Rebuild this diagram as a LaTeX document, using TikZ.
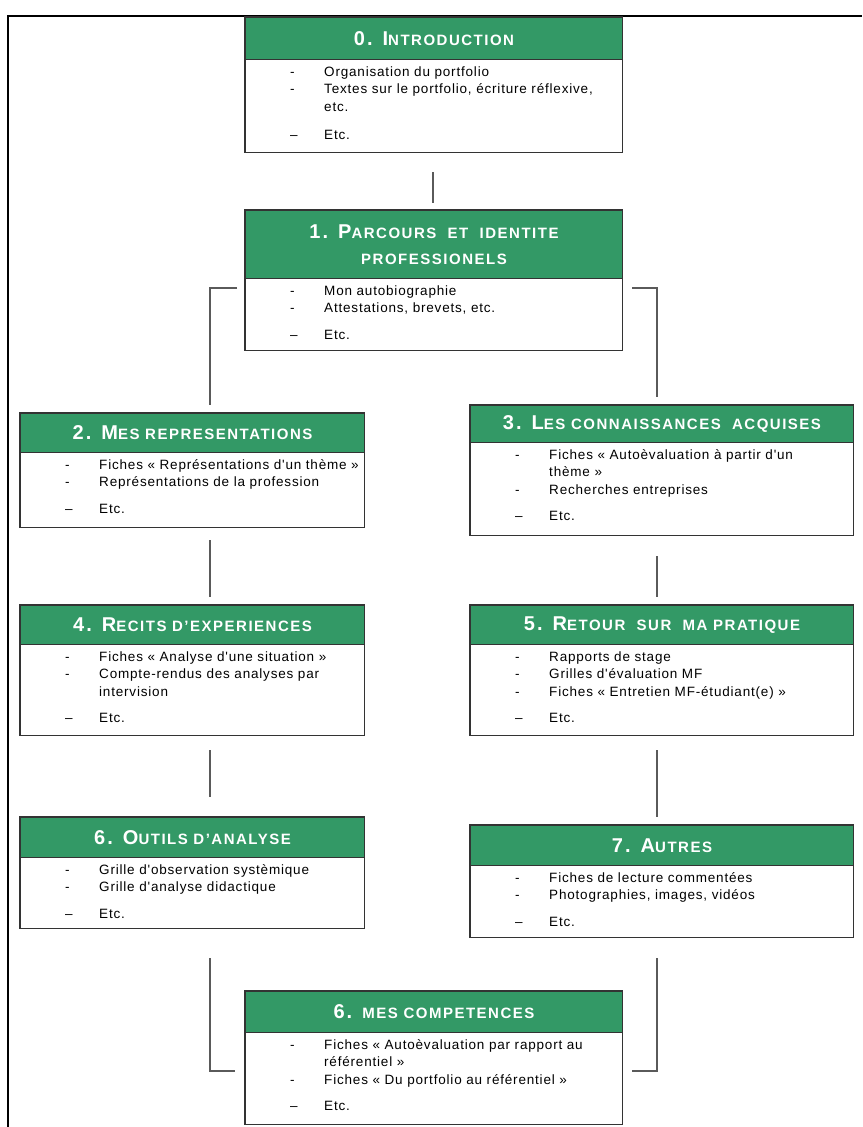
\documentclass[tikz,border=0pt]{standalone}
\usepackage{fontspec}
\setmainfont{Liberation Sans}
\newfontfamily\hfont[LetterSpace=10]{Liberation Sans}
\newfontfamily\bfont[LetterSpace=6]{Liberation Sans}
\usepackage{array}
\definecolor{hgreen}{RGB}{51,153,102}
\definecolor{lgray}{RGB}{90,90,90}
\newcommand\HB[1]{{\fontsize{20}{26}\selectfont #1}}
\newcommand\HS[1]{{\fontsize{15}{26}\selectfont #1}}
\newcommand\itm{-}
\newcommand\edash{–}
\tikzset{
  boxbody/.style={draw=none, fill=white, inner sep=0pt, rectangle},
  boxhead/.style={fill=hgreen, draw=black!80, line width=1pt, inner sep=0pt, rectangle,
    text=white, font=\hfont\fontsize{15}{26}\selectfont\bfseries, align=center},
  bodytext/.style={inner sep=0pt, font=\bfont\fontsize{13.5}{17.5}\selectfont, align=left},
  boxline/.style={draw=black!80, line width=1.2pt},
  conn/.style={draw=lgray, line width=1.2pt},
  frame/.style={draw=black, line width=2.2pt}
}
\newcommand\mkbox[8]{%
  \node[boxbody, minimum width=#4pt, minimum height=#5pt, anchor=north west] (#1) at (#2,#3) {};
  \node[boxhead, minimum width=#4pt, minimum height=#6pt, anchor=north west] (#1h) at (#2,#3) {#7};
  \node[bodytext, anchor=north west] (#1t) at ([xshift=45pt, yshift=-4pt]#1h.south west)
    {\begin{tabular}{@{}p{34pt}@{}l@{}}#8\end{tabular}};
  \draw[boxline] (#1.north west) rectangle (#1.south east);
}
\begin{document}
\begin{tikzpicture}[x=1pt,y=-1pt]
\useasboundingbox (0,0) rectangle (862,1127);
\fill[white] (0,0) rectangle (862,1127);
\draw[frame] (8,1127) -- (8,16) -- (862,16);

\mkbox{b0}{245}{17}{377}{135}{42}{\HB{0. I}\HS{NTRODUCTION}}
 {\itm & Organisation du portfolio\\ \itm & Textes sur le portfolio, écriture réflexive,\\ & etc.\\[11pt] \edash & Etc.}
\mkbox{b1}{245}{210}{377}{140}{68}{\HB{1. P}\HS{ARCOURS\ \ ET\ \ IDENTITE}\\\HS{PROFESSIONELS}}
 {\itm & Mon autobiographie\\ \itm & Attestations, brevets, etc.\\[9pt] \edash & Etc.}
\mkbox{b2}{20}{413}{344}{114}{39}{\HB{2. M}\HS{ES REPRESENTATIONS}}
 {\itm & Fiches «~Représentations d'un thème~»\\ \itm & Représentations de la profession\\[9pt] \edash & Etc.}
\mkbox{b3}{470}{405}{383}{130}{37}{\HB{3. L}\HS{ES CONNAISSANCES\ \ ACQUISES}}
 {\itm & Fiches «~Autoèvaluation à partir d'un\\ & thème~»\\ \itm & Recherches entreprises\\[9pt] \edash & Etc.}
\mkbox{b4}{20}{605}{344}{130}{39}{\HB{4. R}\HS{ECITS D’EXPERIENCES}}
 {\itm & Fiches «~Analyse d'une situation~»\\ \itm & Compte-rendus des analyses par\\ & intervision\\[9pt] \edash & Etc.}
\mkbox{b5}{470}{605}{383}{130}{39}{\HB{5. R}\HS{ETOUR\ \ SUR\ \ MA PRATIQUE}}
 {\itm & Rapports de stage\\ \itm & Grilles d'évaluation MF\\ \itm & Fiches «~Entretien MF-étudiant(e)~»\\[9pt] \edash & Etc.}
\mkbox{b6}{20}{817}{344}{111}{40}{\HB{6. O}\HS{UTILS D’ANALYSE}}
 {\itm & Grille d'observation systèmique\\ \itm & Grille d'analyse didactique\\[9pt] \edash & Etc.}
\mkbox{b7}{470}{825}{383}{112}{40}{\HB{7. A}\HS{UTRES}}
 {\itm & Fiches de lecture commentées\\ \itm & Photographies, images, vidéos\\[9pt] \edash & Etc.}
\mkbox{b8}{245}{991}{377}{133}{41}{\HB{6. }\HS{MES COMPETENCES}}
 {\itm & Fiches «~Autoèvaluation par rapport au\\ & référentiel~»\\ \itm & Fiches «~Du portfolio au référentiel~»\\[9pt] \edash & Etc.}

% connectors
\coordinate (c01a) at (433,172); \coordinate (c01b) at (433,203);
\draw[conn] (c01a) -- (c01b);
\coordinate (l1a) at (237,288); \coordinate (l1b) at (210,405);
\draw[conn] (l1a) -- (l1a -| l1b) -- (l1b);
\coordinate (r1a) at (632,288); \coordinate (r1b) at (657,397);
\draw[conn] (r1a) -- (r1a -| r1b) -- (r1b);
\coordinate (l2a) at (210,540); \coordinate (l2b) at (210,597);
\draw[conn] (l2a) -- (l2b);
\coordinate (r2a) at (657,556); \coordinate (r2b) at (657,597);
\draw[conn] (r2a) -- (r2b);
\coordinate (l3a) at (210,750); \coordinate (l3b) at (210,797);
\draw[conn] (l3a) -- (l3b);
\coordinate (r3a) at (657,750); \coordinate (r3b) at (657,817);
\draw[conn] (r3a) -- (r3b);
\coordinate (l4a) at (210,958); \coordinate (l4b) at (235,1071);
\draw[conn] (l4a) -- (l4a |- l4b) -- (l4b);
\coordinate (r4a) at (657,958); \coordinate (r4b) at (632,1071);
\draw[conn] (r4a) -- (r4a |- r4b) -- (r4b);
\end{tikzpicture}
\end{document}
